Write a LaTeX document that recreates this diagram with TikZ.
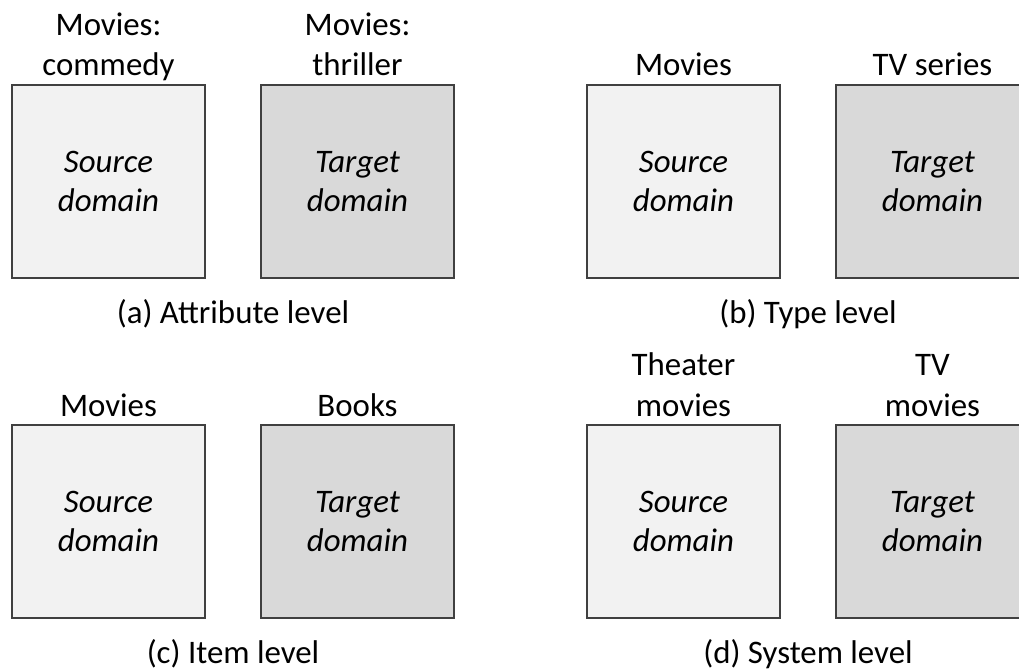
\documentclass[tikz,border=0pt]{standalone}
\usepackage{fontspec}
\setmainfont{Carlito}
\definecolor{srcfill}{HTML}{F2F2F2}
\definecolor{tgtfill}{HTML}{D9D9D9}
\definecolor{edge}{HTML}{404040}
\begin{document}
\begin{tikzpicture}[x=1bp,y=-1bp,
  domainbox/.style={draw=edge, line width=1.5bp, minimum width=193bp, minimum height=193bp,
    inner sep=0pt, align=center, font=\itshape\fontsize{33}{40}\selectfont},
  srcbox/.style={domainbox, fill=srcfill},
  tgtbox/.style={domainbox, fill=tgtfill},
  head/.style={anchor=base, inner sep=0pt, align=center, font=\fontsize{33}{41}\selectfont},
  caption/.style={anchor=base, inner sep=0pt, font=\fontsize{33}{40}\selectfont}]
\useasboundingbox (0,0) rectangle (1019,671);
\clip (0,0) rectangle (1019,671);

% (a) attribute level
\node[srcbox] (aS) at (108.5,181.5) {Source\\domain};
\node[tgtbox] (aT) at (357.5,181.5) {Target\\domain};
\node[head] (aSl) at (108.5,76) {Movies:\\commedy};
\node[head] (aTl) at (357.5,76) {Movies:\\thriller};
\node[caption] (aC) at (233,323) {(a) Attribute level};

% (b) type level
\node[srcbox] (bS) at (683.5,181.5) {Source\\domain};
\node[tgtbox] (bT) at (932.5,181.5) {Target\\domain};
\node[head] (bSl) at (683.5,76) {Movies};
\node[head] (bTl) at (932.5,76) {TV series};
\node[caption] (bC) at (808,323) {(b) Type level};

% (c) item level
\node[srcbox] (cS) at (108.5,521.5) {Source\\domain};
\node[tgtbox] (cT) at (357.5,521.5) {Target\\domain};
\node[head] (cSl) at (108.5,416) {Movies};
\node[head] (cTl) at (357.5,416) {Books};
\node[caption] (cC) at (233,663) {(c) Item level};

% (d) system level
\node[srcbox] (dS) at (683.5,521.5) {Source\\domain};
\node[tgtbox] (dT) at (932.5,521.5) {Target\\domain};
\node[head] (dSl) at (683.5,416) {Theater\\movies};
\node[head] (dTl) at (932.5,416) {TV\\movies};
\node[caption] (dC) at (808,663) {(d) System level};
\end{tikzpicture}
\end{document}
